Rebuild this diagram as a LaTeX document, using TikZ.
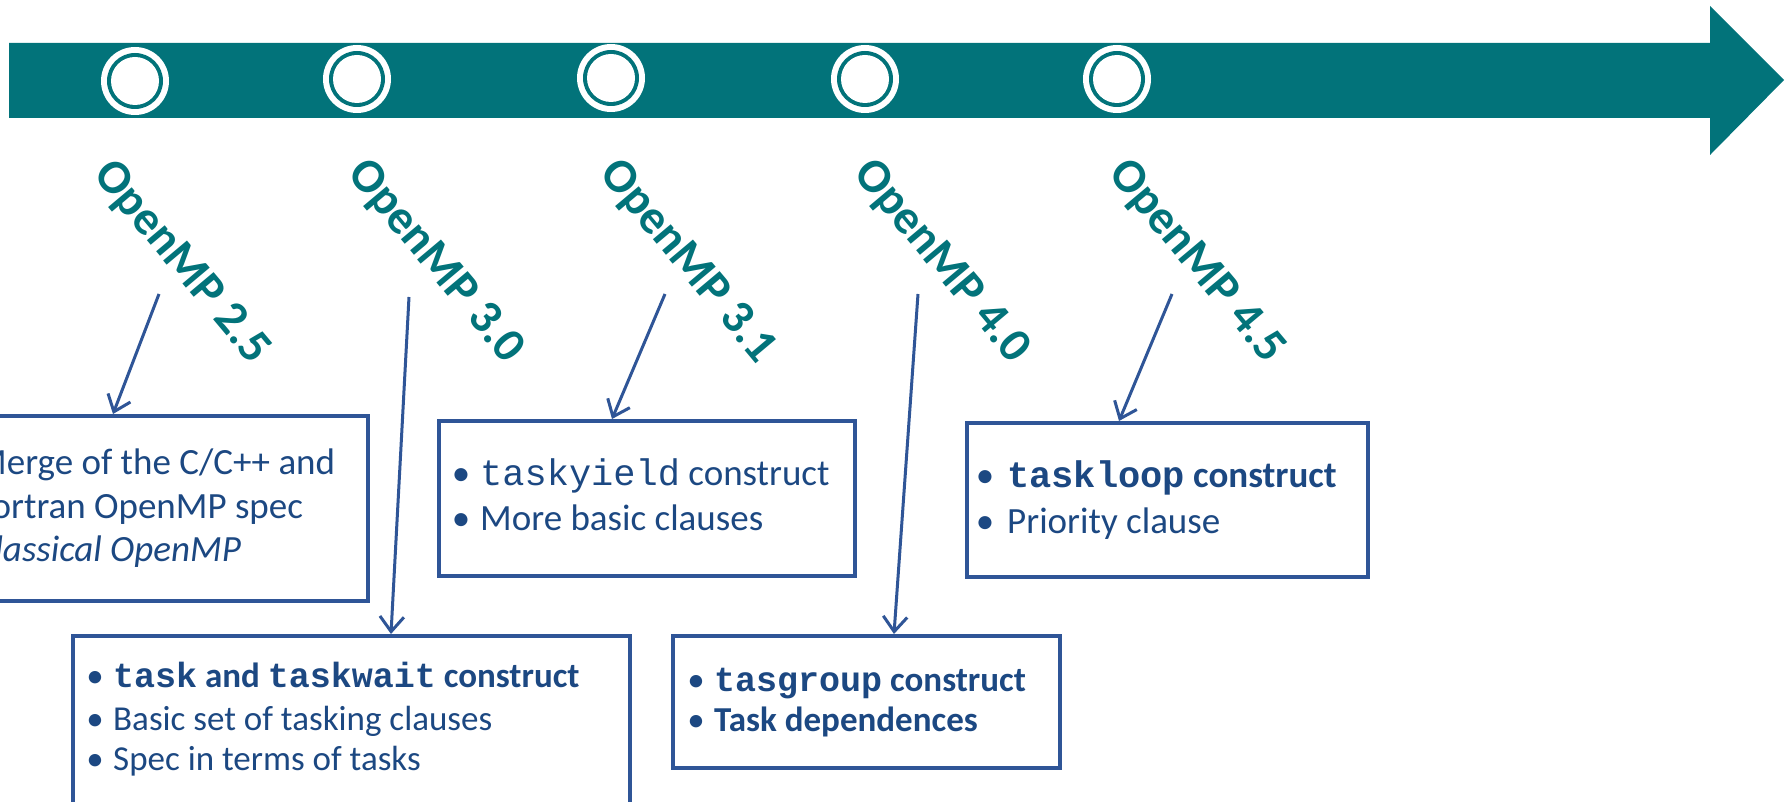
\documentclass[tikz,border=0pt]{standalone}
\usepackage{fontspec}
\setmainfont{Carlito}
\setmonofont{Liberation Mono}
\usetikzlibrary{arrows.meta}

\definecolor{band}{RGB}{2,115,122}
\definecolor{frame}{RGB}{47,85,151}
\definecolor{ink}{RGB}{28,72,130}

\tikzset{
  box/.style={draw=frame, line width=4pt, rectangle, inner sep=0pt, anchor=north west},
  ver/.style={text=band, font=\fontsize{48}{56}\selectfont\bfseries, rotate=-50, inner sep=0pt},
  conn/.style={draw=frame, line width=3pt, -{Straight Barb[length=15pt,width=24pt]}},
  txt/.style={text=ink, anchor=base west, inner sep=0pt, font=\fontsize{#1}{#1}\selectfont},
  bul/.style={text=ink, anchor=base, inner sep=0pt, font=\fontsize{#1}{#1}\selectfont},
}

\newcommand{\milestone}[1]{%
  \fill[white] (#1) circle (34);
  \fill[band]  (#1) circle (28);
  \fill[white] (#1) circle (24);
}

\begin{document}
\begin{tikzpicture}[x=1pt,y=-1pt]
\useasboundingbox (0,0) rectangle (1791,802);
\clip (0,0) rectangle (1791,802);
\fill[white] (0,0) rectangle (1791,802);

% timeline arrow
\fill[band] (9,43) -- (1710,43) -- (1710,6) -- (1784,80) -- (1710,155)
            -- (1710,118) -- (9,118) -- cycle;

% milestones on the timeline
\coordinate (m1) at (135,81);
\coordinate (m2) at (357,79);
\coordinate (m3) at (611,78);
\coordinate (m4) at (865,79);
\coordinate (m5) at (1117,79);
\milestone{m1}
\milestone{m2}
\milestone{m3}
\milestone{m4}
\milestone{m5}

% version labels
\node[ver] (v25) at (181,263) {OpenMP 2.5};
\node[ver] (v30) at (435,262) {OpenMP 3.0};
\node[ver] (v31) at (687,262) {OpenMP 3.1};
\node[ver] (v40) at (941,262) {OpenMP 4.0};
\node[ver] (v45) at (1196,262) {OpenMP 4.5};

% feature boxes
\node[box, minimum width=396, minimum height=185] (bA) at (-30,414) {};
\node[box, minimum width=557, minimum height=220] (bB) at (71,634) {};
\node[box, minimum width=416, minimum height=155] (bC) at (437,419) {};
\node[box, minimum width=401, minimum height=154] (bD) at (965,421) {};
\node[box, minimum width=387, minimum height=132] (bE) at (671,634) {};

% OpenMP 2.5
\node[txt=37] (a1) at (-25,474) {Merge of the C/C++ and};
\node[txt=37] (a2) at (-25,518) {Fortran OpenMP spec};
\node[txt=37] (a3) at (-25,561) {\itshape Classical OpenMP};

% OpenMP 3.0
\node[bul=35] (b1d) at (95,687) {•};
\node[txt=35] (b1) at (113,687) {\bfseries\texttt{task} and \texttt{taskwait} construct};
\node[bul=35] (b2d) at (95,730) {•};
\node[txt=35] (b2) at (113,730) {Basic set of tasking clauses};
\node[bul=35] (b3d) at (95,770) {•};
\node[txt=35] (b3) at (113,770) {Spec in terms of tasks};

% OpenMP 3.1
\node[bul=37] (c1d) at (461,485) {•};
\node[txt=37] (c1) at (480,485) {\texttt{taskyield} construct};
\node[bul=37] (c2d) at (461,530) {•};
\node[txt=37] (c2) at (480,530) {More basic clauses};

% OpenMP 4.5
\node[bul=37] (d1d) at (985,487) {•};
\node[txt=37] (d1) at (1007,487) {\bfseries\texttt{taskloop} construct};
\node[bul=37] (d2d) at (985,533) {•};
\node[txt=37] (d2) at (1007,533) {Priority clause};

% OpenMP 4.0
\node[bul=35] (e1d) at (696,691) {•};
\node[txt=35] (e1) at (714,691) {\bfseries\texttt{tasgroup} construct};
\node[bul=35] (e2d) at (696,731) {•};
\node[txt=35] (e2) at (714,731) {\bfseries Task dependences};

% connectors from the labels to the boxes
\coordinate (s25) at (159,294);  \coordinate (t25) at (113,0);
\coordinate (s30) at (409,297);  \coordinate (t30) at (391,0);
\coordinate (s31) at (665,294);  \coordinate (t31) at (612,0);
\coordinate (s40) at (918,294);  \coordinate (t40) at (894,0);
\coordinate (s45) at (1172,294); \coordinate (t45) at (1119,0);
\draw[conn] (s25) -- (t25 |- bA.north);
\draw[conn] (s30) -- (t30 |- bB.north);
\draw[conn] (s31) -- (t31 |- bC.north);
\draw[conn] (s40) -- (t40 |- bE.north);
\draw[conn] (s45) -- (t45 |- bD.north);
\end{tikzpicture}
\end{document}
